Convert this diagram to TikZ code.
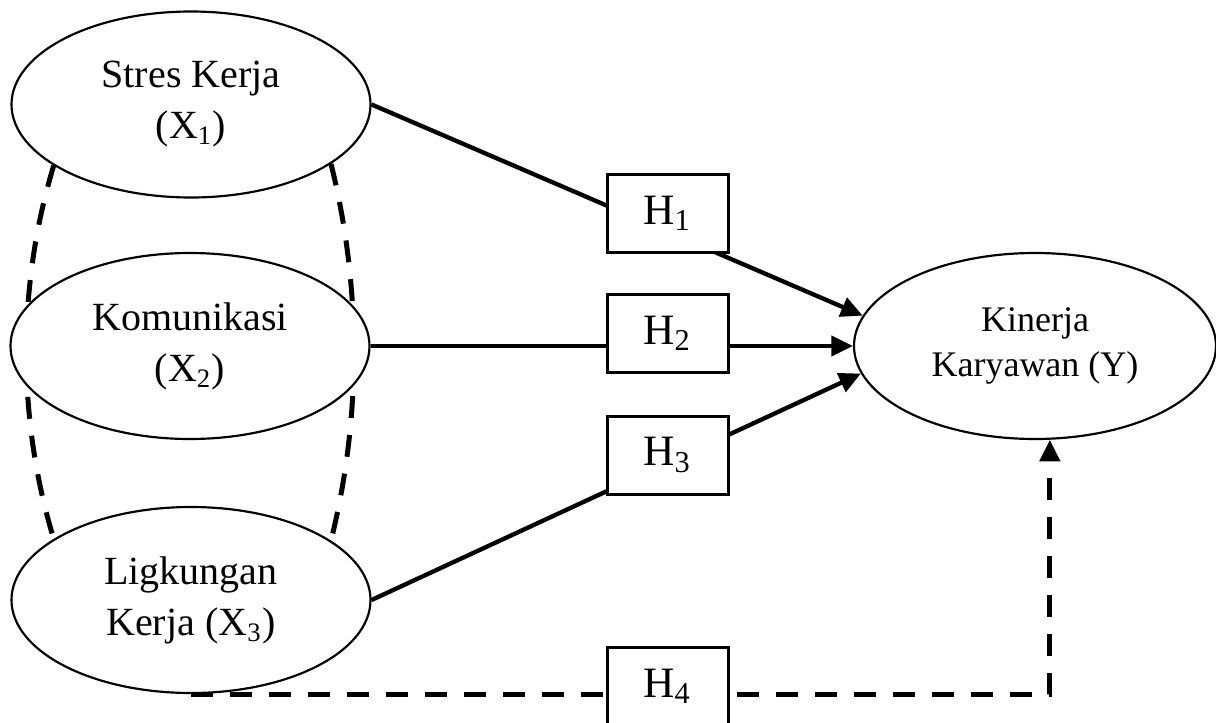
\documentclass[tikz,border=0pt]{standalone}
\usepackage{fontspec}
\setmainfont{Liberation Serif}
\usetikzlibrary{positioning, arrows.meta, shapes.geometric, backgrounds}

\begin{document}
\begin{tikzpicture}[
            x=30pt, y=30pt,
            >={Triangle[length=6.5pt, width=6pt]},
            latent/.style={ellipse, draw, line width=0.65pt, fill=white, minimum width=107.7pt, minimum height=55.8pt, inner sep=0pt, align=center, font=\fontsize{12}{15.3}\selectfont},
            outcome/.style={latent, minimum width=108.6pt, font=\fontsize{10.8}{13.5}\selectfont},
            hyp/.style={rectangle, draw, line width=0.9pt, fill=white, minimum width=36.3pt, minimum height=23.4pt, inner sep=0pt, font=\fontsize{13}{15}\selectfont},
            link/.style={line width=1.3pt},
            covar/.style={line width=1.5pt, dash pattern=on 6.6pt off 5.1pt},
        ]
            \useasboundingbox (0,0) rectangle (12.16,-7.23);

            % Draw the independent variables
            \node[latent] (X-1) at (1.91,-1.045) {Stres Kerja\\(X\textsubscript{1})};
            \node[latent] (X-2) at (1.90,-3.46) {Komunikasi\\(X\textsubscript{2})};
            \node[latent] (X-3) at (1.91,-6.00) {Ligkungan\\Kerja (X\textsubscript{3})};

            % Draw the dependent variable
            \node[outcome] (Y) at (10.35,-3.46) {Kinerja\\Karyawan (Y)};

            % Draw the hypothesis boxes
            \foreach \name / \y in {1/2.13, 2/3.33, 3/4.55, 4/6.86}
                \node[hyp] (H-\name) at (6.675,-\y) {H\textsubscript{\name}};

            % Connect the variables behind the boxes
            \begin{scope}[on background layer]
                \draw[covar] (X-1.204) to[out=253, in=107, looseness=0.86] (X-3.156);
                \draw[covar] (X-1.337) to[out=284, in=76, looseness=0.86] (X-3.23);
                \draw[link, ->] (X-1.east) -- (Y.170);
                \draw[link, ->] (X-2.east) -- (Y.west);
                \draw[link, ->] (X-3.east) -- (Y.189);
                \draw[covar, ->] (X-3.south) -| (Y.279);
            \end{scope}
        \end{tikzpicture}
\end{document}
